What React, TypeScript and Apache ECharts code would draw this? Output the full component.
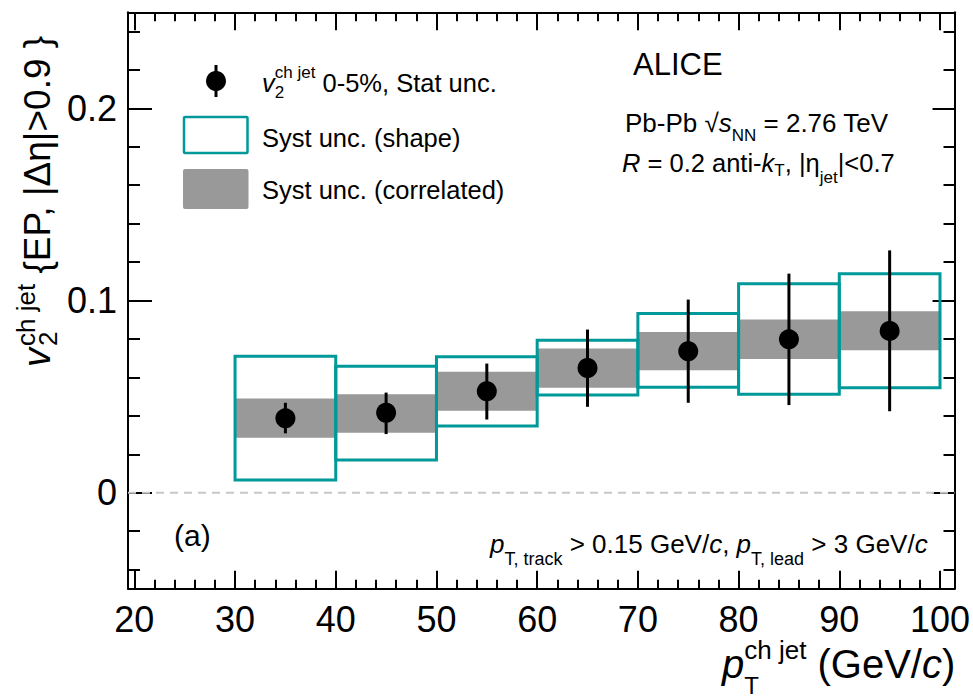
import React, { useEffect, useRef } from "react";
import * as echarts from "echarts";

// ---------------- data ----------------
const binLow = [30, 40, 50, 60, 70, 80, 90];
const binHigh = [40, 50, 60, 70, 80, 90, 100];
const binCenter = [35, 45, 55, 65, 75, 85, 95];
const v2 = [0.0387, 0.0416, 0.0528, 0.0649, 0.0736, 0.0798, 0.0842];
const statLow = [0.0309, 0.0305, 0.0381, 0.0447, 0.0468, 0.0456, 0.0424];
const statHigh = [0.0468, 0.0521, 0.0672, 0.0849, 0.1005, 0.114, 0.1261];
const shapeLow = [0.0066, 0.017, 0.0347, 0.0508, 0.0549, 0.0513, 0.0546];
const shapeHigh = [0.071, 0.0658, 0.0707, 0.0793, 0.0932, 0.1088, 0.114];
const corrLow = [0.0286, 0.0312, 0.0426, 0.0546, 0.0637, 0.0696, 0.0741];
const corrHigh = [0.049, 0.0513, 0.0629, 0.075, 0.0836, 0.0901, 0.0944];

const xMin = 19.37;
const xMax = 101.44;
const yMin = -0.05;
const yMax = 0.25;
const xMajorTicks = [20, 30, 40, 50, 60, 70, 80, 90, 100];
const xMinorTicks = [
  20, 22, 24, 26, 28, 30, 32, 34, 36, 38, 40, 42, 44, 46, 48, 50, 52, 54, 56, 58, 60,
  62, 64, 66, 68, 70, 72, 74, 76, 78, 80, 82, 84, 86, 88, 90, 92, 94, 96, 98, 100,
];
const yMajorTicks = [0, 0.1, 0.2];
const yMinorTicks = [
  -0.04, -0.02, 0, 0.02, 0.04, 0.06, 0.08, 0.1, 0.12, 0.14, 0.16, 0.18, 0.2, 0.22, 0.24,
];

const TEAL = "#00999a";
const GRAY = "#999999";
const FF = '"Liberation Sans", Arial, Helvetica, sans-serif';

// ---------------- text layout helper ----------------
let ctx: CanvasRenderingContext2D | null = null;
function tw(t: string, size: number, italic?: boolean) {
  if (!ctx) ctx = document.createElement("canvas").getContext("2d");
  if (!ctx) return t.length * size * 0.55;
  ctx.font = `${italic ? "italic " : ""}${size}px ${FF}`;
  return ctx.measureText(t).width;
}
type Seg = { t: string; s: number; i?: boolean; dy?: number; dx?: number; keep?: boolean };
function runText(segs: Seg[], x0: number, base: number) {
  const out: any[] = [];
  let x = x0;
  let kept = 0;
  for (const g of segs) {
    x += g.dx || 0;
    const w = tw(g.t, g.s, g.i);
    out.push({
      type: "text",
      x,
      y: base + (g.dy || 0) - 0.35 * g.s,
      silent: true,
      style: {
        text: g.t,
        fontSize: g.s,
        fontFamily: FF,
        fontStyle: g.i ? "italic" : "normal",
        fill: "#000",
        align: "left",
        verticalAlign: "middle",
        textAlign: "left",
        textVerticalAlign: "middle",
      },
    });
    if (g.keep) {
      kept = w;
    } else {
      x += Math.max(w, kept);
      kept = 0;
    }
  }
  return out;
}

export default function App() {
  const ref = useRef<HTMLDivElement>(null);
  useEffect(() => {
    if (!ref.current) return;
    const chart = echarts.init(ref.current, undefined, { renderer: "svg" });

    const axisLineStyle = { color: "#000", width: 2 };
    const tickStyle = { color: "#000", width: 2 };
    const xBase = {
      type: "value",
      min: xMin,
      max: xMax,
      splitLine: { show: false },
    };
    const yBase = {
      type: "value",
      min: yMin,
      max: yMax,
      splitLine: { show: false },
    };

    const graphics: any[] = [];
    // legend
    graphics.push({
      type: "line",
      silent: true,
      shape: { x1: 216, y1: 65, x2: 216, y2: 97 },
      style: { stroke: "#000", lineWidth: 3 },
    });
    graphics.push({
      type: "circle",
      silent: true,
      shape: { cx: 216, cy: 81, r: 10 },
      style: { fill: "#000" },
    });
    graphics.push({
      type: "rect",
      silent: true,
      shape: { x: 184, y: 117, width: 63.5, height: 36, r: 1 },
      style: { fill: "#fff", stroke: TEAL, lineWidth: 2.5 },
    });
    graphics.push({
      type: "rect",
      silent: true,
      shape: { x: 183, y: 169, width: 65.5, height: 40, r: 2 },
      style: { fill: GRAY },
    });
    graphics.push(
      ...runText(
        [
          { t: "v", s: 25.5, i: true },
          { t: "2", s: 17, dy: 6, keep: true },
          { t: "ch jet", s: 17, dy: -14 },
          { t: " 0-5%, Stat unc.", s: 25.5 },
        ],
        262,
        92
      )
    );
    graphics.push(...runText([{ t: "Syst unc. (shape)", s: 25.5 }], 262, 147));
    graphics.push(...runText([{ t: "Syst unc. (correlated)", s: 25.5 }], 262, 199));

    // ALICE block
    graphics.push(...runText([{ t: "ALICE", s: 31 }], 633, 75));
    graphics.push(
      ...runText(
        [
          { t: "Pb-Pb ", s: 26 },
          { t: "√", s: 26 },
          { t: "s", s: 26, i: true },
          { t: "NN", s: 17, dy: 9 },
          { t: " = 2.76 TeV", s: 26 },
        ],
        625,
        132
      )
    );
    graphics.push(
      ...runText(
        [
          { t: "R", s: 25.5, i: true },
          { t: " = 0.2 anti-", s: 25.5 },
          { t: "k", s: 25.5, i: true },
          { t: "T", s: 17, dy: 4 },
          { t: ", |η", s: 25.5 },
          { t: "jet", s: 17, dy: 11 },
          { t: "|<0.7", s: 25.5 },
        ],
        622,
        172
      )
    );

    // bottom selection text
    graphics.push(
      ...runText(
        [
          { t: "p", s: 26, i: true },
          { t: "T, track", s: 18, dy: 12 },
          { t: " > 0.15 GeV/", s: 26 },
          { t: "c", s: 26, i: true },
          { t: ", ", s: 26 },
          { t: "p", s: 26, i: true },
          { t: "T, lead", s: 18, dy: 12 },
          { t: " > 3 GeV/", s: 26 },
          { t: "c", s: 26, i: true },
        ],
        490,
        553
      )
    );
    graphics.push(...runText([{ t: "(a)", s: 30 }], 174, 546));

    // x-axis title
    graphics.push(
      ...runText(
        [
          { t: "p", s: 40, i: true },
          { t: "T", s: 24, dy: 16, keep: true },
          { t: "ch jet", s: 26, dy: -19 },
          { t: " (GeV/", s: 40 },
          { t: "c", s: 40, i: true },
          { t: ")", s: 40 },
        ],
        722,
        678
      )
    );

    // y-axis title (rotated)
    graphics.push({
      type: "group",
      x: 50,
      y: 367,
      rotation: Math.PI / 2,
      children: runText(
        [
          { t: "v", s: 38, i: true },
          { t: "2", s: 26, dy: 7, keep: true, dx: 2 },
          { t: "ch jet", s: 26, dy: -15 },
          { t: " {EP, |Δη|>0.9 }", s: 37 },
        ],
        0,
        0
      ),
    });

    const option: any = {
      animation: false,
      backgroundColor: "#fff",
      grid: {
        left: 128,
        top: 12.3,
        width: 826.5,
        height: 576.5,
        containLabel: false,
        outerBoundsMode: "none",
      },
      xAxis: [
        {
          ...xBase,
          position: "bottom",
          axisLine: { show: true, onZero: false, lineStyle: axisLineStyle },
          axisTick: { show: true, inside: true, length: 18, customValues: xMajorTicks, lineStyle: tickStyle },
          axisLabel: {
            show: true,
            customValues: xMajorTicks,
            fontSize: 36,
            fontFamily: FF,
            color: "#000",
            margin: 13,
          },
        },
        {
          ...xBase,
          position: "bottom",
          axisLine: { show: false, onZero: false },
          axisTick: { show: true, inside: true, length: 9, customValues: xMinorTicks, lineStyle: tickStyle },
          axisLabel: { show: false },
        },
        {
          ...xBase,
          position: "top",
          axisLine: { show: true, onZero: false, lineStyle: axisLineStyle },
          axisTick: { show: true, inside: true, length: 18, customValues: xMajorTicks, lineStyle: tickStyle },
          axisLabel: { show: false },
        },
        {
          ...xBase,
          position: "top",
          axisLine: { show: false, onZero: false },
          axisTick: { show: true, inside: true, length: 9, customValues: xMinorTicks, lineStyle: tickStyle },
          axisLabel: { show: false },
        },
      ],
      yAxis: [
        {
          ...yBase,
          position: "left",
          axisLine: { show: true, onZero: false, lineStyle: axisLineStyle },
          axisTick: { show: true, inside: true, length: 24, customValues: yMajorTicks, lineStyle: tickStyle },
          axisLabel: {
            show: true,
            customValues: yMajorTicks,
            fontSize: 36,
            fontFamily: FF,
            color: "#000",
            margin: 11,
          },
        },
        {
          ...yBase,
          position: "left",
          axisLine: { show: false, onZero: false },
          axisTick: { show: true, inside: true, length: 12, customValues: yMinorTicks, lineStyle: tickStyle },
          axisLabel: { show: false },
        },
        {
          ...yBase,
          position: "right",
          axisLine: { show: true, onZero: false, lineStyle: axisLineStyle },
          axisTick: { show: true, inside: true, length: 22, customValues: yMajorTicks, lineStyle: tickStyle },
          axisLabel: { show: false },
        },
        {
          ...yBase,
          position: "right",
          axisLine: { show: false, onZero: false },
          axisTick: { show: true, inside: true, length: 11, customValues: yMinorTicks, lineStyle: tickStyle },
          axisLabel: { show: false },
        },
      ],
      series: [
        {
          type: "line",
          silent: true,
          symbol: "none",
          data: [
            [xMin, 0],
            [xMax, 0],
          ],
          lineStyle: { color: "#c8c8c8", width: 2, type: [8, 6] },
          z: 1,
        },
        {
          type: "custom",
          silent: true,
          data: binLow.map((l, i) => [l, binHigh[i], corrLow[i], corrHigh[i]]),
          encode: { x: [0, 1], y: [2, 3] },
          renderItem: (params: any, api: any) => {
            const p1 = api.coord([api.value(0), api.value(3)]);
            const p2 = api.coord([api.value(1), api.value(2)]);
            return {
              type: "rect",
              shape: { x: p1[0], y: p1[1], width: p2[0] - p1[0], height: p2[1] - p1[1] },
              style: { fill: GRAY },
            };
          },
          z: 2,
        },
        {
          type: "custom",
          silent: true,
          data: binLow.map((l, i) => [l, binHigh[i], shapeLow[i], shapeHigh[i]]),
          encode: { x: [0, 1], y: [2, 3] },
          renderItem: (params: any, api: any) => {
            const p1 = api.coord([api.value(0), api.value(3)]);
            const p2 = api.coord([api.value(1), api.value(2)]);
            return {
              type: "rect",
              shape: { x: p1[0], y: p1[1], width: p2[0] - p1[0], height: p2[1] - p1[1] },
              style: { fill: "none", stroke: TEAL, lineWidth: 3 },
            };
          },
          z: 3,
        },
        {
          type: "custom",
          silent: true,
          data: binCenter.map((c, i) => [c, statLow[i], statHigh[i]]),
          encode: { x: 0, y: [1, 2] },
          renderItem: (params: any, api: any) => {
            const a = api.coord([api.value(0), api.value(1)]);
            const b = api.coord([api.value(0), api.value(2)]);
            return {
              type: "line",
              shape: { x1: a[0], y1: a[1], x2: b[0], y2: b[1] },
              style: { stroke: "#000", lineWidth: 3 },
            };
          },
          z: 4,
        },
        {
          type: "scatter",
          silent: true,
          symbol: "circle",
          symbolSize: 20,
          data: binCenter.map((c, i) => [c, v2[i]]),
          itemStyle: { color: "#000", opacity: 1 },
          z: 5,
        },
      ],
      graphic: graphics,
    };
    chart.setOption(option);
    return () => chart.dispose();
  }, []);
  return (
    <div
      ref={ref}
      style={{ position: "fixed", left: 0, top: 0, width: 973, height: 698, background: "#fff" }}
    />
  );
}
